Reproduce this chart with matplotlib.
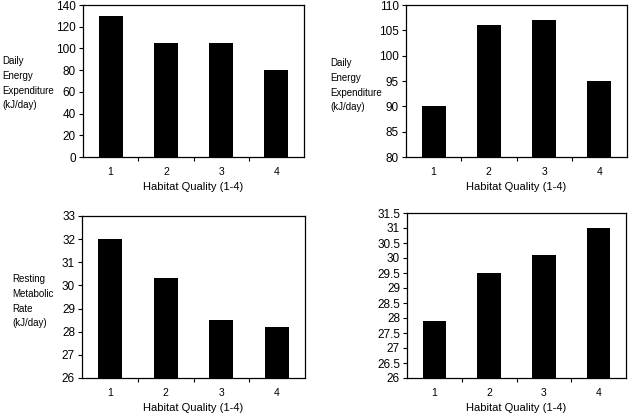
import numpy as np
import matplotlib.pyplot as plt

plt.rcParams['font.family'] = ['Liberation Sans', 'DejaVu Sans']

habitat = [1, 2, 3, 4]
dee_a = [130, 105, 105, 80]
dee_b = [90, 106, 107, 95]
rmr_a = [32, 30.3, 28.5, 28.2]
rmr_b = [27.9, 29.5, 30.1, 31]

W, H = 633, 416
fig = plt.figure(figsize=(W / 100, H / 100), dpi=100)

def px_axes(x0, y0, x1, y1):
    return fig.add_axes([x0 / W, 1 - y1 / H, (x1 - x0) / W, (y1 - y0) / H])

def draw(ax, vals, ylim, step, fmt):
    ax.bar(habitat, vals, width=0.43, color='black')
    ax.set_xlim(0.5, 4.5)
    ax.set_ylim(*ylim)
    ticks = np.arange(ylim[0], ylim[1] + step / 2, step)
    ax.set_yticks(ticks)
    ax.set_yticklabels([fmt(v) for v in ticks])
    ax.set_xticks(habitat)
    ax.set_xticks([1.5, 2.5, 3.5], minor=True)
    ax.tick_params(axis='x', which='major', length=0, pad=7, labelsize=7.5)
    ax.tick_params(axis='x', which='minor', length=3, width=0.8, direction='out')
    ax.tick_params(axis='y', length=3, width=0.8, direction='out', labelsize=8.5, pad=2)
    for s in ax.spines.values():
        s.set_linewidth(0.9)
    ax.set_xlabel('Habitat Quality (1-4)', fontsize=8, labelpad=4)

ax1 = px_axes(83, 5, 304, 157)
draw(ax1, dee_a, (0, 140), 20, lambda v: '%d' % v)
ax2 = px_axes(406, 5, 627, 157)
draw(ax2, dee_b, (80, 110), 5, lambda v: '%d' % v)
ax3 = px_axes(82, 216, 305, 378)
draw(ax3, rmr_a, (26, 33), 1, lambda v: '%d' % v)
ax4 = px_axes(407, 213, 626, 378)
draw(ax4, rmr_b, (26, 31.5), 0.5, lambda v: ('%g' % v))

def ylab(x, y, s):
    fig.text(x / W, 1 - y / H, s, fontsize=7, ha='left', va='top', linespacing=1.6)

ylab(2, 56, 'Daily\nEnergy\nExpenditure\n(kJ/day)')
ylab(330, 58, 'Daily\nEnergy\nExpenditure\n(kJ/day)')
ylab(12, 274, 'Resting\nMetabolic\nRate\n(kJ/day)')

fig.savefig('out.png', dpi=100)
